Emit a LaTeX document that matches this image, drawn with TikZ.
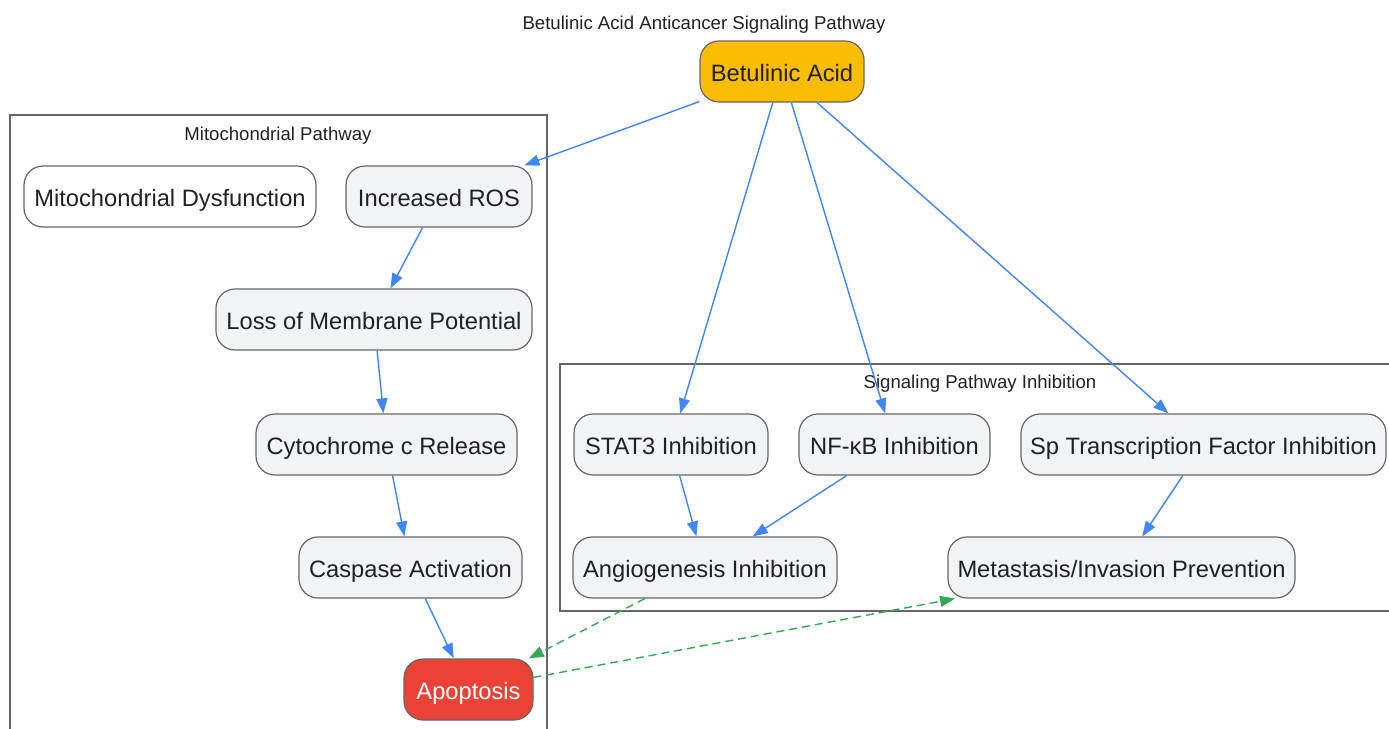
\documentclass[tikz,border=0pt]{standalone}
\usepackage{fontspec}
\setmainfont{Liberation Sans}
\usetikzlibrary{arrows.meta}

\definecolor{edgeblue}{HTML}{4285F4}
\definecolor{edgegreen}{HTML}{34A853}
\definecolor{acidyellow}{HTML}{FBBC04}
\definecolor{apored}{HTML}{EA4335}
\definecolor{boxgray}{HTML}{F1F3F4}
\definecolor{linegray}{HTML}{666666}
\definecolor{textdark}{HTML}{202124}

\tikzset{
  stepnode/.style={draw=linegray, line width=1.2pt, fill=boxgray, rounded corners=19pt,
    minimum height=61pt, inner sep=0pt, text height=20pt, text depth=0pt,
    text=textdark, font=\fontsize{23.7}{28}\selectfont},
  flowarrow/.style={edgeblue, line width=1.4pt, -{Triangle[length=15pt,width=11pt]}},
  linkarrow/.style={edgegreen, line width=1.4pt, dash pattern=on 8pt off 5pt,
    -{Triangle[length=15pt,width=11pt]}},
  clusterbox/.style={draw=linegray, line width=1.2pt},
  clusterlabel/.style={text=textdark, inner sep=0pt, text height=14pt, text depth=0pt,
    font=\fontsize{18.6}{22}\selectfont}
}

\begin{document}
\begin{tikzpicture}[x=1pt, y=-1pt]
        \useasboundingbox (0,0) rectangle (1389,728);
        %%%%%%%%%%%%%%%%%%%%%%%% Titulo %%%%%%%%%%%%%%%%%%%%%%%%%%%%%%%%%%%
        \node[clusterlabel] (title) at (704,22) {Betulinic Acid Anticancer Signaling Pathway};
        %%%%%%%%%%%%%%%%%%%%%%%% Grupos %%%%%%%%%%%%%%%%%%%%%%%%%%%%%%%%%%%
        \draw[clusterbox] (10,740) -- (10,115) -- (547,115) -- (547,740); %Grupo mitocondrial
        \node[clusterlabel] (mitolabel) at (278,133) {Mitochondrial Pathway};
        \draw[clusterbox] (1395,364) -- (560,364) -- (560,611) -- (1395,611); %Grupo de senalizacion
        \node[clusterlabel] (signallabel) at (980,381) {Signaling Pathway Inhibition};
        %%%%%%%%%%%%%%%%%%%%%%%% Nodos %%%%%%%%%%%%%%%%%%%%%%%%%%%%%%%%%%%%
        \node[stepnode, fill=acidyellow, minimum width=164pt] (acid) at (782,71.5) {Betulinic Acid};
        \node[stepnode, fill=white, minimum width=292pt] (dysfunction) at (170,196.5) {Mitochondrial Dysfunction};
        \node[stepnode, minimum width=186pt] (ros) at (439,196.5) {Increased ROS};
        \node[stepnode, minimum width=316pt] (potential) at (374,319.5) {Loss of Membrane Potential};
        \node[stepnode, minimum width=261pt] (cytochrome) at (386.5,444.5) {Cytochrome c Release};
        \node[stepnode, minimum width=223pt] (caspase) at (410.5,567.5) {Caspase Activation};
        \node[stepnode, fill=apored, text=white, minimum width=129pt] (apoptosis) at (468.5,689.5) {Apoptosis};
        \node[stepnode, minimum width=194pt] (stat) at (671,444.5) {STAT3 Inhibition};
        \node[stepnode, minimum width=191pt] (nfkb) at (894.5,444.5) {NF-κB Inhibition};
        \node[stepnode, minimum width=365pt] (sp) at (1203.5,444.5) {Sp Transcription Factor Inhibition};
        \node[stepnode, minimum width=264pt] (angio) at (705,567.5) {Angiogenesis Inhibition};
        \node[stepnode, minimum width=347pt] (metastasis) at (1121.5,567.5) {Metastasis/Invasion Prevention};
        %%%%%%%%%%%%%%%%%%%%%%%% Flechas %%%%%%%%%%%%%%%%%%%%%%%%%%%%%%%%%%
        \draw[flowarrow] (acid) -- (ros);
        \draw[flowarrow] (acid) -- (stat);
        \draw[flowarrow] (acid) -- (nfkb);
        \draw[flowarrow] (acid) -- (sp);
        \draw[flowarrow] (ros) -- (potential);
        \draw[flowarrow] (potential) -- (cytochrome);
        \draw[flowarrow] (cytochrome) -- (caspase);
        \draw[flowarrow] (caspase) -- (apoptosis);
        \draw[flowarrow] (stat) -- (angio);
        \draw[flowarrow] (nfkb) -- (angio);
        \draw[flowarrow] (sp) -- (metastasis);
        \draw[linkarrow] (angio) -- (apoptosis); %Enlace punteado
        \draw[linkarrow] (apoptosis) -- (metastasis);
      \end{tikzpicture}
\end{document}
